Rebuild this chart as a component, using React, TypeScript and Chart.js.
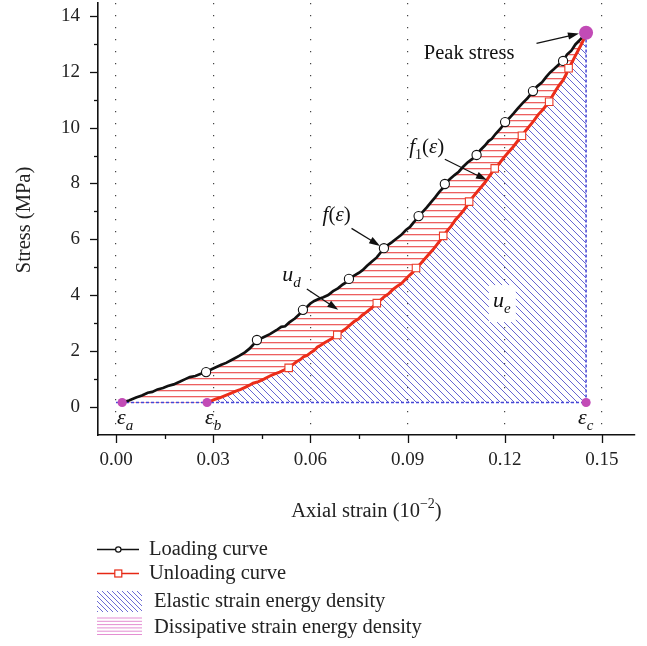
import React, { useEffect, useRef } from "react";
import { Chart, registerables } from "chart.js";

Chart.register(...registerables);

const SERIF = '"Liberation Serif", "Times New Roman", serif';

// ---------- data (strain in 10^-2, stress in MPa) ----------
const loadingCurve: [number, number][] = [
  [0.0019, 0.15], [0.004, 0.22], [0.0062, 0.33], [0.008, 0.4], [0.0098, 0.5], [0.0112, 0.53],
  [0.0128, 0.62], [0.0145, 0.67], [0.016, 0.74], [0.0178, 0.8], [0.0198, 0.9], [0.0212, 0.98],
  [0.0228, 1.06], [0.0245, 1.1], [0.0262, 1.18], [0.0278, 1.24], [0.0295, 1.34], [0.031, 1.42],
  [0.0325, 1.5], [0.034, 1.57], [0.0361, 1.7], [0.038, 1.82], [0.0398, 1.95], [0.0412, 2.08],
  [0.0422, 2.2], [0.0435, 2.39], [0.0452, 2.47], [0.0475, 2.6], [0.0495, 2.74], [0.051, 2.86],
  [0.0522, 2.88], [0.0535, 3.02], [0.0552, 3.16], [0.0565, 3.3], [0.0577, 3.47], [0.059, 3.58],
  [0.06, 3.7], [0.0612, 3.79], [0.0625, 3.86], [0.064, 3.92], [0.0655, 4.0], [0.067, 4.14],
  [0.0685, 4.24], [0.07, 4.38], [0.071, 4.45], [0.0719, 4.58], [0.0735, 4.7], [0.075, 4.8],
  [0.0762, 4.9], [0.0775, 5.05], [0.079, 5.2], [0.0805, 5.35], [0.0815, 5.5], [0.0827, 5.68],
  [0.084, 5.8], [0.0852, 5.9], [0.0865, 6.02], [0.088, 6.15], [0.0895, 6.33], [0.0908, 6.45],
  [0.092, 6.62], [0.0934, 6.83], [0.0948, 7.0], [0.096, 7.15], [0.0972, 7.32], [0.0985, 7.5],
  [0.0998, 7.7], [0.1008, 7.82], [0.1015, 7.98], [0.103, 8.15], [0.1045, 8.3], [0.1058, 8.42],
  [0.107, 8.58], [0.1085, 8.75], [0.11, 8.88], [0.1113, 9.02], [0.1125, 9.2], [0.1138, 9.35],
  [0.115, 9.52], [0.116, 9.6], [0.1172, 9.78], [0.1188, 9.98], [0.1201, 10.2], [0.1215, 10.35],
  [0.1228, 10.52], [0.1241, 10.7], [0.1255, 10.88], [0.127, 11.05], [0.1287, 11.31], [0.13, 11.48],
  [0.1315, 11.62], [0.1328, 11.82], [0.134, 11.98], [0.1352, 12.1], [0.1366, 12.25], [0.138, 12.39],
  [0.1392, 12.62], [0.1405, 12.75], [0.1418, 12.98], [0.143, 13.12], [0.1441, 13.26], [0.1451, 13.4],
];

const unloadingCurve: [number, number][] = [
  [0.0281, 0.15], [0.0292, 0.2], [0.0305, 0.26], [0.032, 0.32], [0.0335, 0.39], [0.0352, 0.47],
  [0.037, 0.56], [0.0385, 0.62], [0.04, 0.7], [0.0412, 0.77], [0.0423, 0.84], [0.044, 0.9],
  [0.0458, 1.0], [0.0475, 1.1], [0.049, 1.18], [0.0505, 1.24], [0.052, 1.32], [0.0533, 1.4],
  [0.0545, 1.5], [0.0558, 1.62], [0.0568, 1.68], [0.058, 1.8], [0.059, 1.84], [0.0599, 1.92],
  [0.0612, 2.02], [0.0622, 2.14], [0.0632, 2.2], [0.0645, 2.3], [0.066, 2.4], [0.0672, 2.48],
  [0.0683, 2.57], [0.0695, 2.68], [0.0708, 2.78], [0.0722, 2.92], [0.0735, 3.05], [0.0748, 3.14],
  [0.076, 3.28], [0.0772, 3.38], [0.0785, 3.5], [0.0795, 3.6], [0.0805, 3.71], [0.0818, 3.84],
  [0.083, 3.96], [0.0842, 4.05], [0.0855, 4.2], [0.0868, 4.32], [0.088, 4.4], [0.0892, 4.55],
  [0.0905, 4.7], [0.0915, 4.8], [0.0926, 4.97], [0.094, 5.12], [0.0952, 5.28], [0.0965, 5.45],
  [0.0978, 5.62], [0.099, 5.8], [0.1, 5.95], [0.101, 6.12], [0.1022, 6.3], [0.1035, 6.48],
  [0.1048, 6.7], [0.106, 6.85], [0.1072, 7.02], [0.1082, 7.18], [0.109, 7.35], [0.1102, 7.52],
  [0.1115, 7.7], [0.1128, 7.88], [0.114, 8.05], [0.1155, 8.3], [0.1169, 8.54], [0.1182, 8.7],
  [0.1195, 8.9], [0.121, 9.1], [0.1225, 9.3], [0.124, 9.52], [0.1253, 9.71], [0.1265, 9.9],
  [0.1278, 10.08], [0.129, 10.25], [0.1302, 10.45], [0.1318, 10.65], [0.1337, 10.93], [0.1348, 11.15],
  [0.1358, 11.35], [0.1368, 11.52], [0.138, 11.7], [0.139, 11.92], [0.1397, 12.13], [0.1408, 12.35],
  [0.1418, 12.58], [0.1428, 12.8], [0.1438, 13.02], [0.1445, 13.2], [0.1451, 13.4],
];

const loadingMarkers: [number, number][] = [
  [0.0278, 1.24], [0.0435, 2.39], [0.0577, 3.47], [0.0719, 4.58], [0.0827, 5.68], [0.0934, 6.83],
  [0.1015, 7.98], [0.1113, 9.02], [0.1201, 10.2], [0.1287, 11.31], [0.138, 12.39],
];

const unloadingMarkers: [number, number][] = [
  [0.0533, 1.39], [0.0683, 2.57], [0.0805, 3.71], [0.0926, 4.97], [0.101, 6.12], [0.109, 7.35],
  [0.1169, 8.54], [0.1253, 9.71], [0.1337, 10.93], [0.1397, 12.13],
];

const strainPoints: [number, number][] = [[0.0019, 0.15], [0.0281, 0.15], [0.1451, 0.15]];
const strainNames = ["a", "b", "c"];
const peakPoint: [number, number][] = [[0.1451, 13.4]];
const elasticBoundary: [number, number][] = [[0.0, 0.15], [0.1451, 0.15], [0.1451, 13.4]];

const xTicks = [0, 0.03, 0.06, 0.09, 0.12, 0.15];
const xMinorTicks = [0.015, 0.045, 0.075, 0.105, 0.135];
const yTicks = [0, 2, 4, 6, 8, 10, 12, 14];
const yMinorTicks = [1, 3, 5, 7, 9, 11, 13];

const legendLabels = [
  "Loading curve",
  "Unloading curve",
  "Elastic strain energy density",
  "Dissipative strain energy density",
];

// ---------- helpers ----------
const toXY = (arr: [number, number][]) => arr.map(([x, y]) => ({ x, y }));

type Seg = { t: string; it?: boolean; sub?: boolean; sup?: boolean };

function drawRich(ctx: CanvasRenderingContext2D, segs: Seg[], x: number, y: number, size: number, align: "left" | "center") {
  const fontOf = (s: Seg) => `${s.it ? "italic " : ""}${s.sub || s.sup ? Math.round(size * 0.68) : size}px ${SERIF}`;
  let total = 0;
  const widths = segs.map((s) => {
    ctx.font = fontOf(s);
    const w = ctx.measureText(s.t).width;
    total += w;
    return w;
  });
  let cx = align === "center" ? x - total / 2 : x;
  ctx.textAlign = "left";
  ctx.textBaseline = "alphabetic";
  segs.forEach((s, i) => {
    ctx.font = fontOf(s);
    const dy = s.sub ? size * 0.28 : s.sup ? -size * 0.42 : 0;
    ctx.fillText(s.t, cx, y + dy);
    cx += widths[i];
  });
}

function drawArrow(ctx: CanvasRenderingContext2D, x1: number, y1: number, x2: number, y2: number) {
  const ang = Math.atan2(y2 - y1, x2 - x1);
  const len = 11;
  const hw = 3.6;
  ctx.beginPath();
  ctx.moveTo(x1, y1);
  ctx.lineTo(x2 - Math.cos(ang) * len * 0.8, y2 - Math.sin(ang) * len * 0.8);
  ctx.stroke();
  ctx.beginPath();
  ctx.moveTo(x2, y2);
  ctx.lineTo(x2 - Math.cos(ang) * len - Math.sin(ang) * hw, y2 - Math.sin(ang) * len + Math.cos(ang) * hw);
  ctx.lineTo(x2 - Math.cos(ang) * len + Math.sin(ang) * hw, y2 - Math.sin(ang) * len - Math.cos(ang) * hw);
  ctx.closePath();
  ctx.fill();
}

function makeBluePattern(ctx: CanvasRenderingContext2D) {
  const c = document.createElement("canvas");
  c.width = 7;
  c.height = 7;
  const g = c.getContext("2d")!;
  g.strokeStyle = "rgba(85,85,205,0.9)";
  g.lineWidth = 1;
  for (const o of [-7, 0, 7]) {
    g.beginPath();
    g.moveTo(o, 0);
    g.lineTo(o + 7, 7);
    g.stroke();
  }
  return ctx.createPattern(c, "repeat")!;
}

function makeRedPattern(ctx: CanvasRenderingContext2D) {
  const c = document.createElement("canvas");
  c.width = 4;
  c.height = 6;
  const g = c.getContext("2d")!;
  g.fillStyle = "rgba(232,55,55,0.8)";
  g.fillRect(0, 0, 4, 1);
  g.fillStyle = "rgba(242,150,150,0.45)";
  g.fillRect(0, 1, 4, 1);
  return ctx.createPattern(c, "repeat")!;
}

const decorPlugin = {
  id: "decor",
  afterDatasetsDraw(chart: any) {
    const { ctx, scales } = chart;
    const x = scales.x;
    const y = scales.y;
    const X = (v: number) => x.getPixelForValue(v);
    const Y = (v: number) => y.getPixelForValue(v);
    ctx.save();
    ctx.fillStyle = "#111";
    ctx.strokeStyle = "#111";
    ctx.lineWidth = 1.2;

    // u_e label with white box
    ctx.fillStyle = "#fff";
    ctx.fillRect(X(0.1191) - 13, Y(3.57) - 22, 27, 37);
    ctx.fillStyle = "#111";
    drawRich(ctx, [{ t: "u", it: true }, { t: "e", it: true, sub: true }], X(0.1191), Y(3.57), 22, "center");

    // Peak stress
    drawRich(ctx, [{ t: "Peak stress" }], X(0.109), Y(12.45), 20.5, "center");
    drawArrow(ctx, X(0.1298), Y(13.02), X(0.1429), Y(13.37));

    // f1(ε)
    drawRich(ctx, [{ t: "f", it: true }, { t: "1", sub: true }, { t: "(" }, { t: "ε", it: true }, { t: ")" }], X(0.0959), Y(9.08), 21, "center");
    drawArrow(ctx, X(0.1015), Y(8.87), X(0.1145), Y(8.12));

    // f(ε)
    drawRich(ctx, [{ t: "f", it: true }, { t: "(" }, { t: "ε", it: true }, { t: ")" }], X(0.0681), Y(6.66), 21, "center");
    drawArrow(ctx, X(0.0727), Y(6.39), X(0.0815), Y(5.76));

    // u_d
    drawRich(ctx, [{ t: "u", it: true }, { t: "d", it: true, sub: true }], X(0.0542), Y(4.5), 22, "center");
    drawArrow(ctx, X(0.0589), Y(4.22), X(0.0686), Y(3.47));

    // strain labels
    const lx = [0.0003, 0.0275, 0.1426];
    strainNames.forEach((n, i) => {
      drawRich(ctx, [{ t: "ε", it: true }, { t: n, it: true, sub: true }], X(lx[i]), Y(-0.62), 22, "left");
    });
    ctx.restore();
  },
  afterDraw(chart: any) {
    const { ctx, scales, chartArea } = chart;
    const x = scales.x;
    const y = scales.y;
    ctx.save();
    ctx.strokeStyle = "#111";
    ctx.lineWidth = 1.3;
    const bottom = chartArea.bottom;
    const left = chartArea.left;
    const tick = (x1: number, y1: number, x2: number, y2: number) => {
      ctx.beginPath();
      ctx.moveTo(x1, y1);
      ctx.lineTo(x2, y2);
      ctx.stroke();
    };
    xTicks.forEach((v) => { const p = Math.round(x.getPixelForValue(v)) + 0.5; tick(p, bottom, p, bottom + 8); });
    xMinorTicks.forEach((v) => { const p = Math.round(x.getPixelForValue(v)) + 0.5; tick(p, bottom, p, bottom + 4); });
    yTicks.forEach((v) => { const p = Math.round(y.getPixelForValue(v)) + 0.5; tick(left - 8, p, left, p); });
    yMinorTicks.forEach((v) => { const p = Math.round(y.getPixelForValue(v)) + 0.5; tick(left - 4, p, left, p); });

    ctx.fillStyle = "#222";
    // x title
    drawRich(ctx, [{ t: "Axial strain (10" }, { t: "−2", sup: true }, { t: ")" }], (chartArea.left + chartArea.right) / 2, 517, 20.5, "center");
    // y title
    ctx.save();
    ctx.translate(29.5, 220);
    ctx.rotate(-Math.PI / 2);
    drawRich(ctx, [{ t: "Stress (MPa)" }], 0, 0, 20.5, "center");
    ctx.restore();

    // legend
    ctx.lineWidth = 1.5;
    ctx.strokeStyle = "#111";
    tick(97, 549.5, 139, 549.5);
    ctx.beginPath();
    ctx.arc(118.3, 549.5, 2.7, 0, Math.PI * 2);
    ctx.fillStyle = "#fff";
    ctx.fill();
    ctx.lineWidth = 1.2;
    ctx.stroke();

    ctx.strokeStyle = "rgb(230,40,20)";
    ctx.lineWidth = 1.5;
    tick(97, 573.5, 139, 573.5);
    ctx.fillStyle = "#fff";
    ctx.fillRect(114.8, 570, 7, 7);
    ctx.lineWidth = 1.2;
    ctx.strokeRect(114.8, 570, 7, 7);

    // elastic swatch
    ctx.save();
    ctx.beginPath();
    ctx.rect(97, 591, 45, 21);
    ctx.clip();
    ctx.strokeStyle = "rgba(100,100,210,0.95)";
    ctx.lineWidth = 1;
    for (let o = 97 - 25; o < 142; o += 5) {
      ctx.beginPath();
      ctx.moveTo(o, 591);
      ctx.lineTo(o + 21, 612);
      ctx.stroke();
    }
    ctx.restore();
    // dissipative swatch
    ctx.fillStyle = "rgba(225,130,205,0.9)";
    for (let yy = 617.5; yy < 636; yy += 3.3) ctx.fillRect(97, yy, 45, 1);

    ctx.fillStyle = "#222";
    drawRich(ctx, [{ t: legendLabels[0] }], 149, 554.5, 20.5, "left");
    drawRich(ctx, [{ t: legendLabels[1] }], 149, 579, 20.5, "left");
    drawRich(ctx, [{ t: legendLabels[2] }], 154, 607, 20.5, "left");
    drawRich(ctx, [{ t: legendLabels[3] }], 154, 633, 20.5, "left");
    ctx.restore();
  },
};

export default function App() {
  const ref = useRef<HTMLCanvasElement>(null);
  useEffect(() => {
    const canvas = ref.current!;
    const ctx = canvas.getContext("2d")!;
    const bluePattern = makeBluePattern(ctx);
    const redPattern = makeRedPattern(ctx);
    const magenta = "#c24bb6";

    const chart = new Chart(canvas, {
      type: "line",
      data: {
        datasets: [
          // 0 elastic fill (under unloading curve)
          {
            data: toXY(unloadingCurve),
            borderWidth: 0,
            borderColor: "transparent",
            pointRadius: 0,
            fill: { value: 0.15 },
            backgroundColor: bluePattern,
            order: 20,
          } as any,
          // 1 lower boundary of dissipative region (helper)
          {
            data: toXY([strainPoints[0], ...unloadingCurve]),
            borderWidth: 0,
            borderColor: "transparent",
            pointRadius: 0,
            fill: false,
            order: 21,
          },
          // 2 dissipative fill (between loading and lower boundary)
          {
            data: toXY(loadingCurve),
            borderWidth: 0,
            borderColor: "transparent",
            pointRadius: 0,
            fill: { target: 1 },
            backgroundColor: redPattern,
            order: 19,
          } as any,
          // 3 elastic boundary dashed
          {
            data: toXY(elasticBoundary),
            borderColor: "rgb(70,70,215)",
            borderWidth: 1.5,
            borderDash: [3, 2],
            pointRadius: 0,
            fill: false,
            order: 10,
          },
          // 4 loading curve
          {
            data: toXY(loadingCurve),
            borderColor: "#111",
            borderWidth: 2.7,
            pointRadius: 0,
            fill: false,
            order: 6,
          },
          // 5 unloading curve
          {
            data: toXY(unloadingCurve),
            borderColor: "rgb(235,45,25)",
            borderWidth: 3,
            pointRadius: 0,
            fill: false,
            order: 5,
          },
          // 6 loading markers
          {
            data: toXY(loadingMarkers),
            showLine: false,
            pointStyle: "circle",
            pointRadius: 4.6,
            pointBackgroundColor: "#fff",
            pointBorderColor: "#111",
            pointBorderWidth: 1.1,
            order: 3,
          },
          // 7 unloading markers
          {
            data: toXY(unloadingMarkers),
            showLine: false,
            pointStyle: "rect",
            pointRadius: 5.3,
            pointBackgroundColor: "#fff",
            pointBorderColor: "rgb(235,60,40)",
            pointBorderWidth: 1.1,
            order: 2,
          },
          // 8 strain points
          {
            data: toXY(strainPoints),
            showLine: false,
            pointRadius: 4.6,
            pointBackgroundColor: magenta,
            pointBorderColor: magenta,
            pointBorderWidth: 0,
            order: 1,
          },
          // 9 peak
          {
            data: toXY(peakPoint),
            showLine: false,
            pointRadius: 7,
            pointBackgroundColor: magenta,
            pointBorderColor: magenta,
            pointBorderWidth: 0,
            order: 0,
          },
        ],
      },
      options: {
        responsive: false,
        animation: false,
        devicePixelRatio: 1,
        events: [],
        layout: { autoPadding: false, padding: { left: 0, top: 3, right: 12, bottom: 0 } },
        elements: { line: { tension: 0 } },
        plugins: {
          legend: { display: false },
          tooltip: { enabled: false },
        },
        scales: {
          x: {
            type: "linear",
            min: -0.00556,
            max: 0.1602,
            afterBuildTicks: (s: any) => {
              s.ticks = xTicks.map((v) => ({ value: v }));
            },
            afterFit: (s: any) => {
              s.height = 211;
              s.paddingLeft = 0;
              s.paddingRight = 0;
            },
            grid: { display: true, drawOnChartArea: true, drawTicks: false, color: "#444", lineWidth: 1.2 },
            border: { display: true, color: "#111", width: 1.6, dash: [1.3, 10.7] },
            ticks: {
              padding: 14,
              color: "#222",
              font: { family: SERIF, size: 19 },
              maxRotation: 0,
              autoSkip: false,
              callback: (v: any) => Number(v).toFixed(2),
            },
          },
          y: {
            type: "linear",
            min: -1.014,
            max: 14.466,
            afterBuildTicks: (s: any) => {
              s.ticks = yTicks.map((v) => ({ value: v }));
            },
            afterFit: (s: any) => {
              s.width = 98;
              s.paddingTop = 0;
              s.paddingBottom = 0;
            },
            grid: { display: false, drawTicks: false },
            border: { display: true, color: "#111", width: 1.6 },
            ticks: {
              padding: 18,
              color: "#222",
              font: { family: SERIF, size: 19 },
              autoSkip: false,
              callback: (v: any) => String(v),
            },
          },
        },
      } as any,
      plugins: [decorPlugin as any],
    });
    return () => chart.destroy();
  }, []);

  return (
    <div style={{ position: "fixed", left: 0, top: 0, width: 647, height: 646, background: "#fff" }}>
      <canvas ref={ref} width={647} height={646} style={{ display: "block", width: 647, height: 646 }} />
    </div>
  );
}
